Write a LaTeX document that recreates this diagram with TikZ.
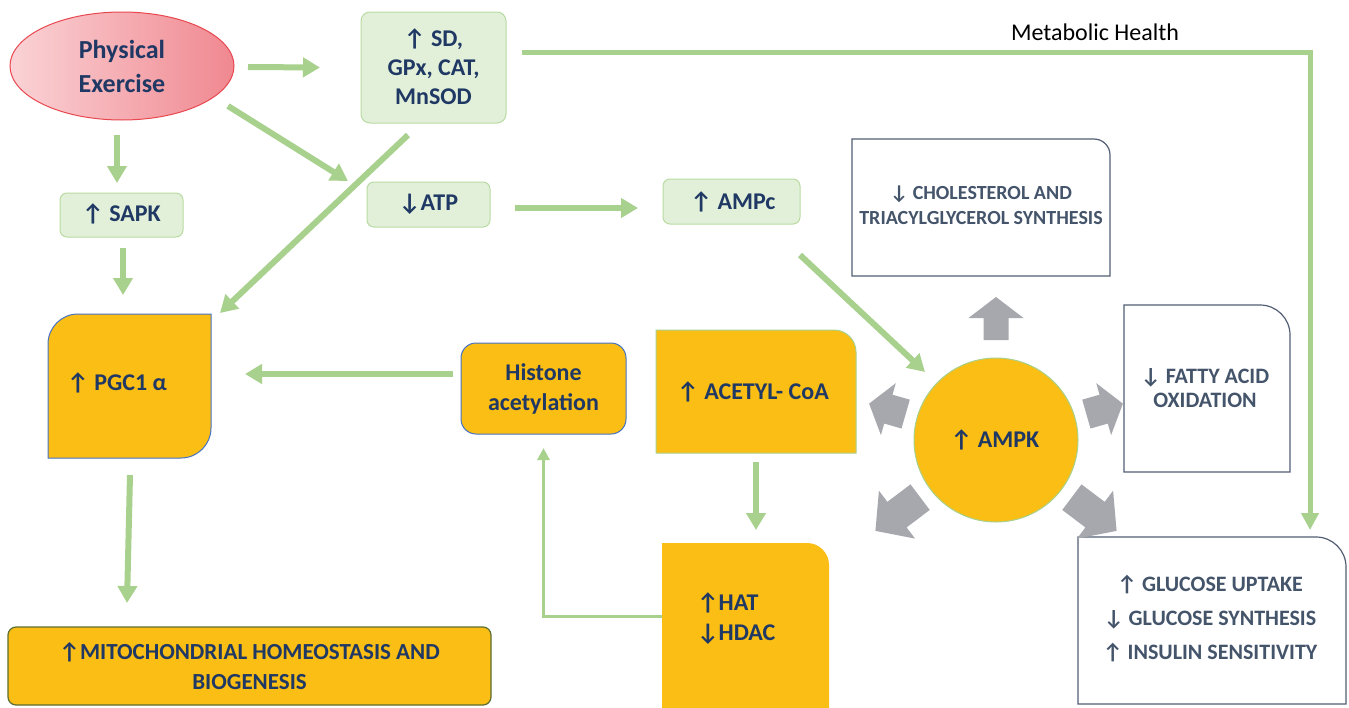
\documentclass[tikz,border=0pt]{standalone}
\usepackage{fontspec}
\setmainfont{Carlito}
\usetikzlibrary{arrows.meta,calc,shapes.geometric}
\definecolor{gline}{HTML}{A9D18E}
\definecolor{lgfill}{HTML}{E2F0D9}
\definecolor{lgdraw}{HTML}{B9DBA2}
\definecolor{navy}{HTML}{1F3864}
\definecolor{orng}{HTML}{FBBE14}
\definecolor{wbdraw}{HTML}{525E74}
\definecolor{wbtext}{HTML}{44546A}
\definecolor{grayarr}{HTML}{A6A8AD}
\definecolor{pinkL}{HTML}{FAD3D6}
\definecolor{pinkR}{HTML}{F08890}
\definecolor{pinkD}{HTML}{E8474F}
\definecolor{bluebd}{HTML}{4472C4}
\definecolor{olivebd}{HTML}{5E6E2E}
\newcommand\myup{↑}
\newcommand\mydn{↓}
\newcommand\trbox[3]{%
  \draw[#3] (#1.south west) -- (#1.north west) -- ([xshift=-#2pt]#1.north east)
    arc[start angle=90,end angle=0,radius=#2pt] -- (#1.south east) -- cycle;}
\newcommand\blockarrow[6]{%
  \begin{scope}[shift={(ampk.center)}, rotate=#1]
  \fill[grayarr] (#2,{-#4/2}) -- ({#2+#3-#6},{-#4/2}) -- ({#2+#3-#6},{-#5/2}) -- ({#2+#3},0)
    -- ({#2+#3-#6},{#5/2}) -- ({#2+#3-#6},{#4/2}) -- (#2,{#4/2}) -- cycle;
  \end{scope}}
\tikzset{
  garrow/.style={draw=gline, line width=6pt, -{Triangle[length=17pt,width=19pt]}},
  tarrow/.style={draw=gline, line width=3pt, -{Triangle[length=12pt,width=12pt]}},
  marrow/.style={draw=gline, line width=5pt, -{Triangle[length=17pt,width=17pt]}},
  lbl/.style={text=navy, font=\bfseries\fontsize{24}{29}\selectfont, align=center, inner sep=0pt, outer sep=0pt},
  wlbl/.style={text=wbtext, font=\bfseries\fontsize{22}{25}\selectfont, align=center, inner sep=0pt, outer sep=0pt},
  lgbox/.style={draw=lgdraw, fill=lgfill, rounded corners=9pt, line width=1pt, inner sep=0pt, outer sep=0pt},
  boxshape/.style={inner sep=0pt, outer sep=0pt},
}
\begin{document}
\begin{tikzpicture}[x=1pt,y=-1pt]
\useasboundingbox (0,0) rectangle (1349,707);
\fill[white] (0,0) rectangle (1349,707);

% ---- Physical exercise
\node[ellipse, draw=pinkD, line width=1pt, left color=pinkL, right color=pinkR,
      minimum width=224pt, minimum height=108pt, inner sep=0pt, outer sep=0pt,
      text=navy, font=\bfseries\fontsize{26}{34}\selectfont, align=center] (pe) at (122,66) {Physical\\Exercise};

% ---- light green boxes
\node[lgbox, minimum width=145pt, minimum height=111pt] (sd) at (433.5,67.5) {};
\node[lbl] (sdt) at (433.5,67) {\myup\ SD,\\GPx, CAT,\\MnSOD};
\node[lgbox, minimum width=123pt, minimum height=44pt, rounded corners=7pt] (sapk) at (121.5,215) {};
\node[lbl] (sapkt) at (121.5,214) {\myup\ SAPK};
\node[lgbox, minimum width=123pt, minimum height=45pt, rounded corners=7pt] (atp) at (428.5,204.5) {};
\node[lbl] (atpt) at (428.5,204) {\mydn ATP};
\node[lgbox, minimum width=137pt, minimum height=45pt, rounded corners=7pt] (ampc) at (731.5,201.5) {};
\node[lbl] (ampct) at (733,202) {\myup\ AMPc};

% ---- white boxes
\node[boxshape, minimum width=258pt, minimum height=137pt] (chol) at (981,207.5) {};
\trbox{chol}{16}{draw=wbdraw, fill=white, line width=1.2pt}
\node[wlbl, font=\bfseries\fontsize{20}{25}\selectfont] (cholt) at (981,205.5) {\mydn\ CHOLESTEROL AND\\TRIACYLGLYCEROL SYNTHESIS};
\node[boxshape, minimum width=166pt, minimum height=167pt] (fatty) at (1207,388.5) {};
\trbox{fatty}{30}{draw=wbdraw, fill=white, line width=1.2pt}
\node[wlbl, font=\bfseries\fontsize{22}{24}\selectfont] (fattyt) at (1205,388) {\mydn\ FATTY ACID\\OXIDATION};
\node[boxshape, minimum width=268pt, minimum height=167pt] (gluc) at (1212,620.5) {};
\trbox{gluc}{30}{draw=wbdraw, fill=white, line width=1.2pt}
\node[wlbl, font=\bfseries\fontsize{22}{34}\selectfont] (gluct) at (1210,619) {\myup\ GLUCOSE UPTAKE\\\mydn\ GLUCOSE SYNTHESIS\\\myup\ INSULIN SENSITIVITY};

% ---- orange boxes
\node[boxshape, minimum width=163pt, minimum height=144pt] (pgc) at (129.5,386) {};
\draw[draw=bluebd, fill=orng, line width=1pt] (pgc.south west) -- ([yshift=-30pt]pgc.north west)
   arc[start angle=180,end angle=90,radius=30pt] -- (pgc.north east) -- ([yshift=30pt]pgc.south east)
   arc[start angle=0,end angle=-90,radius=30pt] -- cycle;
\node[lbl] (pgct) at (117,383) {\myup\ PGC1 α};

\node[draw=olivebd, fill=orng, line width=1.2pt, rounded corners=8pt, minimum width=483pt, minimum height=78pt,
      inner sep=0pt, outer sep=0pt] (mito) at (249.5,666) {};
\node[lbl, font=\bfseries\fontsize{23}{30}\selectfont] (mitot) at (249.5,666) {\myup MITOCHONDRIAL HOMEOSTASIS AND\\BIOGENESIS};

\node[draw=bluebd, fill=orng, line width=1pt, rounded corners=15pt, minimum width=165pt, minimum height=91pt,
      inner sep=0pt, outer sep=0pt] (hist) at (543.5,388.5) {};
\node[lbl, font=\bfseries\fontsize{24}{30}\selectfont] (histt) at (543.5,389) {Histone\\acetylation};

\node[boxshape, minimum width=200pt, minimum height=123pt] (acet) at (756,391.5) {};
\trbox{acet}{22}{draw=gline, fill=orng, line width=1pt}
\node[lbl] (acett) at (753,392) {\myup\ ACETYL- CoA};

\node[boxshape, minimum width=167pt, minimum height=172pt] (hat) at (745.5,629) {};
\trbox{hat}{22}{draw=none, fill=orng}
\node[lbl, align=left, anchor=west, font=\bfseries\fontsize{24}{30}\selectfont] (hatt) at (697,619) {\myup HAT\\\mydn HDAC};

\node[circle, draw=gline, fill=orng, line width=1pt, minimum size=164pt, inner sep=0pt, outer sep=0pt] (ampk) at (996,440) {};
\node[lbl] (ampkt) at (995,440) {\myup\ AMPK};

% ---- metabolic health label
\node[text=black, font=\fontsize{24}{26}\selectfont, inner sep=0pt] (mh) at (1095,32) {Metabolic Health};

% ---- gray block arrows around AMPK
\blockarrow{90}{100}{43}{25}{55}{21}
\blockarrow{164}{94}{38}{30}{54}{20}
\blockarrow{16}{94}{38}{30}{54}{20}
\blockarrow{217}{95}{56}{32}{60}{27}
\blockarrow{-37}{95}{56}{32}{60}{27}

% ---- green connectors
\draw[garrow] ([shift={(14,1)}]pe.east) -- ([shift={(-41,0)}]sd.west);
\draw[garrow] ([shift={(106,40)}]pe.center) -- ([shift={(-19,-1)}]atp.north west);
\draw[garrow] ([shift={(-5,15)}]pe.south) -- ([shift={(-4.5,-10)}]sapk.north);
\draw[garrow] ([shift={(1.5,11)}]sapk.south) -- ([shift={(-6.5,-19)}]pgc.north);
\draw[garrow] ([shift={(-25.5,12)}]sd.south) -- ([shift={(9,-1)}]pgc.north east);
\draw[garrow] ([shift={(25,3.5)}]atp.east) -- ([shift={(-25,6.5)}]ampc.west);
\draw[garrow] ([shift={(0,31)}]ampc.south east) -- ([shift={(-71,-68)}]ampk.center);
\draw[marrow] ([shift={(16,-15.5)}]sd.east) -| ([shift={(98,-7)}]gluc.north);
\draw[garrow] ([shift={(-8,-14.5)}]hist.west) -- ([shift={(34,-12)}]pgc.east);
\draw[garrow] ([shift={(0.5,17)}]pgc.south) -- ([shift={(-122.5,-24)}]mito.north);
\draw[garrow] ([shift={(0,9)}]acet.south) -- ([shift={(10.5,-13)}]hat.north);
\draw[tarrow] ([shift={(0,-12.5)}]hat.west) -| ([shift={(0,14)}]hist.south);
\end{tikzpicture}
\end{document}
